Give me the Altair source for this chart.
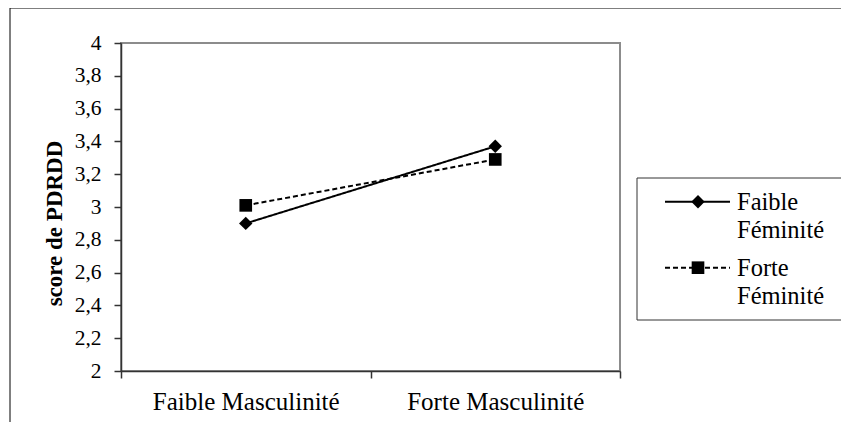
import altair as alt
import pandas as pd

# ---- data ----
categories = ["Faible Masculinité", "Forte Masculinité"]
series_names = ["Faible Féminité", "Forte Féminité"]
faible_feminite = [2.90, 3.37]
forte_feminite = [3.01, 3.29]
y_ticks = [2.0, 2.2, 2.4, 2.6, 2.8, 3.0, 3.2, 3.4, 3.6, 3.8, 4.0]
legend_labels = ["Faible\nFéminité", "Forte\nFéminité"]
y_title = "score de PDRDD"

rows = []
for s, vals in zip(series_names, [faible_feminite, forte_feminite]):
    for c, v in zip(categories, vals):
        rows.append({"cat": c, "series": s, "score": v})
df = pd.DataFrame(rows)

FONT = "Liberation Serif"
W, H = 499, 328
DASHES = [[1, 0], [5, 3]]
SHAPES = ["diamond", "square"]
SIZES = [180, 160]

x_enc = alt.X(
    "cat:N",
    sort=categories,
    bandPosition=0.5,
    scale=alt.Scale(type="band", paddingInner=0, paddingOuter=0),
    axis=alt.Axis(
        title=None, labelAngle=0, tickBand="extent", labelLimit=0,
        labelFont=FONT, labelFontSize=25, labelColor="black", labelPadding=11,
        domainColor="#333333", domainWidth=1.5, tickColor="#333333",
        tickWidth=1.5, tickSize=7, grid=False,
    ),
)
y_enc = alt.Y(
    "score:Q",
    scale=alt.Scale(domain=[2, 4], nice=False, zero=False),
    axis=alt.Axis(
        values=y_ticks,
        labelExpr="replace(format(datum.value, '.1~f'), '.', ',')",
        labelFont=FONT, labelFontSize=21.5, labelColor="black", labelPadding=13,
        domainColor="#333333", domainWidth=1.5, tickColor="#333333",
        tickWidth=1.5, tickSize=7, grid=False,
        title=y_title, titleFont=FONT, titleFontSize=23, titleFontWeight="bold",
        titleColor="black", titleX=-60, titleY=180, titleAlign="center",
        titleBaseline="alphabetic",
    ),
)

lines = alt.Chart(df).mark_line(color="black", strokeWidth=2).encode(
    x=x_enc, y=y_enc,
    strokeDash=alt.StrokeDash("series:N", scale=alt.Scale(domain=series_names, range=DASHES), legend=None),
)
points = alt.Chart(df).mark_point(filled=True, color="black", opacity=1).encode(
    x=x_enc, y=y_enc,
    shape=alt.Shape("series:N", scale=alt.Scale(domain=series_names, range=SHAPES), legend=None),
    size=alt.Size("series:N", scale=alt.Scale(domain=series_names, range=SIZES), legend=None),
)

one = pd.DataFrame({"a": [0]})

# outer chart border (decoration): only top and left edges are visible
border_top = alt.Chart(one).mark_rule(color="black", strokeWidth=1).encode(
    x=alt.value(-111), x2=alt.value(730), y=alt.value(-35), y2=alt.value(-35)
)
border_left = alt.Chart(one).mark_rule(color="black", strokeWidth=1).encode(
    x=alt.value(-111), x2=alt.value(-111), y=alt.value(-35), y2=alt.value(400)
)

# hand-made legend, Excel style
legend_layers = [
    alt.Chart(one).mark_rect(fill="white", stroke="#333333", strokeWidth=1).encode(
        x=alt.value(516), x2=alt.value(727), y=alt.value(135), y2=alt.value(277)
    )
]
for i, lab in enumerate(legend_labels):
    ly = 158.7 + 66 * i
    legend_layers.append(
        alt.Chart(one).mark_rule(color="black", strokeWidth=2, strokeDash=DASHES[i]).encode(
            x=alt.value(544), x2=alt.value(609), y=alt.value(ly)
        )
    )
    legend_layers.append(
        alt.Chart(one).mark_point(filled=True, color="black", opacity=1, shape=SHAPES[i], size=SIZES[i]).encode(
            x=alt.value(577), y=alt.value(ly)
        )
    )
    legend_layers.append(
        alt.Chart(one).mark_text(
            align="left", baseline="alphabetic", lineBreak="\n", lineHeight=28,
            font=FONT, fontSize=24.5, color="black",
        ).encode(x=alt.value(616), y=alt.value(ly + 8), text=alt.value(lab))
    )

chart = alt.layer(border_top, border_left, lines, points, *legend_layers).properties(
    width=W, height=H,
    autosize=alt.AutoSizeParams(type="none"),
    padding={"left": 113, "top": 35, "right": 221, "bottom": 51},
    background="white",
).configure_view(stroke="#8c8c8c", strokeWidth=2)

chart.save("out.html", embed_options={"renderer": "svg", "actions": False})
